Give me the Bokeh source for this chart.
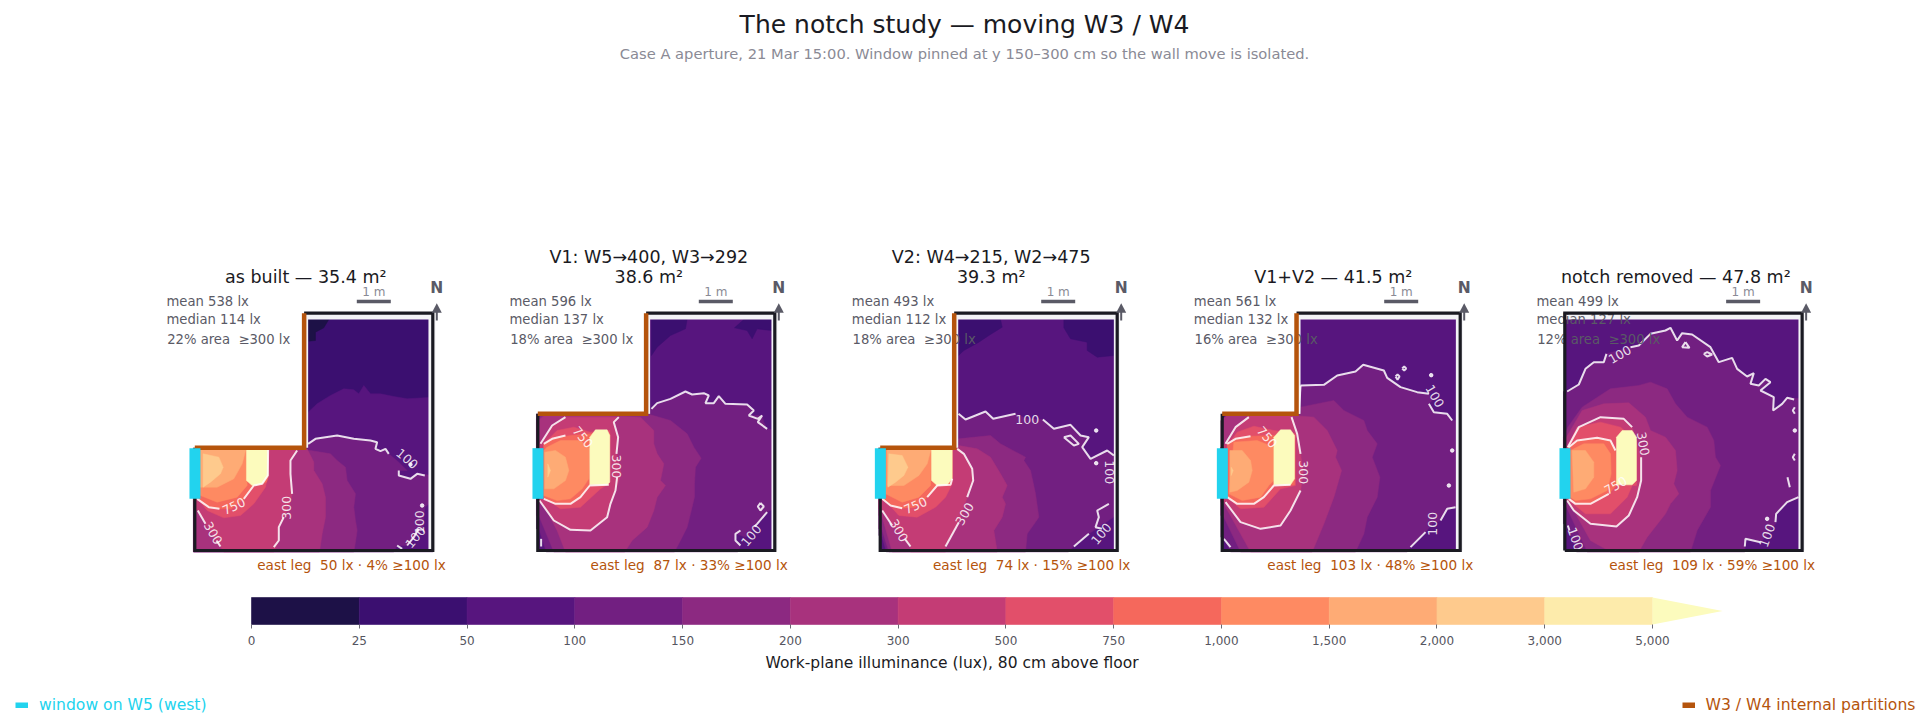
from bokeh.embed import file_html
from bokeh.resources import INLINE
from bokeh.plotting import figure
from bokeh.layouts import column, row
from bokeh.models import FixedTicker, Range1d
from bokeh.core.properties import value

LEVELS = [0, 25, 50, 100, 150, 200, 300, 500, 750, 1000, 1500, 2000, 3000, 5000]
LEVEL_LABELS = ["0", "25", "50", "100", "150", "200", "300", "500", "750", "1,000", "1,500", "2,000", "3,000", "5,000"]
COLORS = ["#1d1147", "#3b0f70", "#57157e", "#721f81", "#8c2981", "#a8327d", "#c43c75",
          "#e24f6a", "#f5685c", "#fe8a62", "#feab75", "#feca8d", "#fdebab"]
OVER_COLOR = "#fcfbbd"

MAIN_TITLE = "The notch study — moving W3 / W4"
SUBTITLE = "Case A aperture, 21 Mar 15:00. Window pinned at y 150–300 cm so the wall move is isolated."
CBAR_LABEL = "Work-plane illuminance (lux), 80 cm above floor"
LEGEND_WINDOW = "window on W5 (west)"
LEGEND_WALLS = "W3 / W4 internal partitions"

P1_BANDS = [
    (0, [(340,693),(402,693),(387,668),(362,655),(362,630),(342,628)]),
    (50, [(340,415),(367,440),(407,465),(447,485),(477,482),(492,470),(507,495),(527,470),(557,470),(597,462),(637,455),(715,460),(715,-4),(-4,-4),(-4,415)]),
    (100, [(340,320),(362,335),(427,345),(477,335),(527,330),(547,325),(542,305),(557,298),(572,305),(582,290),(612,265),(637,240),(612,240),(612,225),(647,215),(667,230),(715,225),(715,150),(690,130),(685,70),(667,45),(637,15),(607,15),(597,-4),(-4,-4),(-4,320)]),
    (150, [(347,300),(407,290),(427,270),(452,250),(457,210),(482,170),(477,130),(482,90),(487,60),(482,25),(477,-4),(-4,-4),(-4,305)]),
    (200, [(337,305),(357,265),(357,240),(382,200),(392,160),(392,100),(382,50),(374,-4),(-4,-4),(-4,305)]),
    (300, [(87,-4),(237,-4),(252,30),(252,70),(267,100),(282,130),(292,170),(287,230),(287,270),(307,300),(310,310),(-4,310),(-4,125),(9,120),(32,80),(62,35),(77,12)]),
    (500, [(220,310),(220,230),(212,190),(177,140),(137,105),(87,98),(37,120),(5,160),(-4,165),(-4,310)]),
    (750, [(-4,310),(-4,150),(7,155),(42,130),(74,125),(110,125),(147,155),(177,195),(215,205),(220,220),(220,310)]),
    (1000, [(17,165),(67,145),(127,160),(157,195),(155,310),(-4,310),(-4,165)]),
    (1500, [(-4,190),(17,190),(67,190),(117,215),(142,260),(155,310),(-4,310)]),
    (2000, [(25,290),(72,280),(85,250),(77,230),(47,205),(25,190)]),
    (5000, [(155,305),(219,305),(219,225),(202,200),(172,195),(155,210)]),
]
P1_LINES = [
    [(340,320),(362,335),(427,345),(477,335),(527,330),(547,325),(542,305),(557,298),(572,305),(582,290)],
    [(612,240),(612,225),(647,215),(667,230),(690,225)],
    [(672,65),(657,40),(637,15)], [(607,15),(622,5)],
    [(307,300),(287,270),(287,230),(292,170)], [(267,100),(252,70),(252,30),(237,10)],
    [(9,120),(32,80)], [(65,30),(77,12)],
    [(7,155),(42,130),(74,125)], [(147,155),(177,195),(202,200),(219,225),(220,305)],
    [(220,305),(307,305)],
]
P1_DOTS = [(647,258),(682,135)]
P1_LABELS = [(275,128,"300",90),(55,52,"300",-60),(117,133,"750",25),(637,275,"100",-40),(675,85,"100",90),(662,40,"100",50)]

P2_BANDS = [
    (25, [(341,693),(448,693),(443,665),(398,645),(358,610),(341,585)]),
    (25, [(618,693),(701,693),(701,660),(658,665),(643,635),(628,660),(590,668)]),
    (100, [(341,425),(358,442),(398,455),(443,477),(463,468),(498,472),(513,465),(503,442),(528,442),(543,463),(563,440),(628,438),(648,420),(633,405),(673,405),(678,385),(688,365),(715,360),(715,130),(688,115),(658,80),(625,40),(595,50),(593,30),(608,15),(600,-4),(25,-4),(5,60),(-4,65),(-4,425)]),
    (150, [(328,410),(398,390),(448,350),(468,310),(490,277),(473,250),(470,200),(470,160),(458,110),(448,70),(428,30),(410,-4),(48,-4),(5,100),(-4,105),(-4,395),(20,410)]),
    (200, [(253,402),(308,400),(348,360),(348,320),(358,290),(378,260),(368,210),(383,195),(358,160),(348,120),(328,70),(283,30),(261,-4),(83,-4),(58,60),(5,160),(-4,165),(-4,385),(25,410)]),
    (300, [(243,400),(228,385),(241,340),(236,290),(250,230),(233,180),(218,140),(208,100),(158,60),(98,62),(48,90),(5,150),(-4,155),(-4,310),(8,320),(43,375),(83,400)]),
    (500, [(18,160),(68,125),(128,130),(188,185),(213,200),(216,360),(158,355),(108,370),(58,360),(18,320)]),
    (750, [(18,155),(53,140),(98,140),(128,160),(156,195),(213,197),(216,350),(160,350),(98,345),(43,335),(18,320)]),
    (1000, [(18,165),(58,150),(98,155),(133,185),(153,215),(156,305),(128,330),(68,330),(28,310),(18,300)]),
    (1500, [(21,295),(53,300),(83,280),(93,240),(83,210),(48,185),(21,185)]),
    (2000, [(30,260),(38,240),(30,220)]),
    (5000, [(156,340),(173,362),(208,362),(216,345),(216,205),(208,197),(156,197)]),
]
P2_LINES = [
    [(341,425),(358,442),(398,455),(443,477),(463,468),(498,472),(513,465),(503,442),(528,442),(543,463),(563,440),(628,438),(648,420),(633,405),(660,395),(673,405),(660,385),(688,365)],
    [(688,115),(658,80),(650,72)], [(608,15),(593,30),(593,50),(608,60)],
    [(668,143),(678,132),(668,120),(660,132),(668,143)], [(10,35),(10,12)],
    [(243,400),(228,385),(241,340),(236,290)], [(238,220),(233,180),(218,140),(208,100),(158,60),(98,62),(48,90),(5,150)],
    [(8,320),(43,375),(83,400)],
    [(18,320),(43,335),(83,345)], [(18,155),(53,140),(98,140),(128,160),(156,195),(213,197)],
]
P2_DOTS = []
P2_LABELS = [(236,252,"300",-90),(135,340,"750",-50),(640,45,"100",50)]

P3_BANDS = [
    (25, [(235,693),(361,693),(366,670),(326,645),(296,625),(251,600),(235,585)]),
    (25, [(551,693),(701,693),(701,585),(651,580),(621,600),(621,625),(571,635),(551,668)]),
    (100, [(235,410),(256,393),(316,417),(339,395),(406,410),(441,395),(488,393),(521,365),(571,377),(601,345),(626,340),(606,310),(631,275),(681,300),(715,285),(715,110),(626,50),(581,12),(565,-4),(18,-4),(6,40),(-4,45),(-4,310),(235,310)]),
    (150, [(235,335),(331,345),(361,320),(436,280),(431,270),(451,240),(466,170),(476,100),(441,50),(436,-4),(26,-4),(6,60),(-4,65),(-4,310),(235,310)]),
    (200, [(235,315),(291,305),(331,280),(361,230),(381,195),(366,160),(376,140),(366,100),(341,60),(351,-4),(36,-4),(6,100),(-4,105),(-4,310),(235,310)]),
    (300, [(91,-4),(196,-4),(196,12),(236,85),(261,160),(279,210),(276,245),(251,290),(231,310),(-4,310),(-4,125),(6,120),(36,75),(56,60),(91,12)]),
    (500, [(6,160),(56,105),(111,100),(166,130),(196,160),(216,200),(216,310),(-4,310),(-4,160)]),
    (750, [(6,155),(31,135),(66,127),(106,130),(141,160),(171,195),(211,197),(216,215),(216,310),(-4,310),(-4,155)]),
    (1000, [(16,170),(66,145),(116,160),(151,195),(154,310),(-4,310),(-4,170)]),
    (1500, [(21,195),(71,195),(116,225),(141,260),(154,310),(21,310)]),
    (2000, [(26,290),(66,285),(83,250),(71,225),(46,205),(23,190)]),
    (5000, [(154,302),(216,302),(216,215),(201,197),(171,195),(154,210)]),
]
P3_LINES = [
    [(235,410),(256,393),(316,417),(339,395),(406,410)],
    [(488,393),(521,365),(571,377),(601,345),(626,340),(606,310),(631,275),(681,300),(701,285)],
    [(551,340),(571,345),(596,320),(581,315),(551,340)],
    [(626,50),(581,12)], [(686,140),(651,120),(656,100),(646,70),(665,65)],
    [(196,12),(236,85)], [(261,160),(279,210),(276,245),(251,290),(231,305)],
    [(6,120),(36,75)], [(74,35),(91,12)],
    [(6,155),(31,135),(66,127)], [(141,160),(171,195),(211,197),(216,215)],
]
P3_DOTS = [(648,360),(648,262)]
P3_LABELS = [(441,392,"100",0),(253,110,"300",60),(56,60,"300",-60),(106,135,"750",25),(689,235,"100",-90),(663,50,"100",50)]

P4_BANDS = [
    (100, [(235,495),(305,497),(345,525),(400,537),(423,557),(485,540),(495,518),(535,490),(585,475),(620,470),(630,450),(620,440),(635,415),(675,410),(690,390),(715,390),(715,130),(675,125),(655,90),(630,80),(610,55),(565,10),(555,-4),(25,-4),(5,35),(-4,40),(-4,310),(235,310)]),
    (150, [(235,430),(335,450),(365,420),(425,390),(435,360),(465,320),(450,280),(473,220),(465,160),(435,100),(425,50),(400,-4),(55,-4),(5,100),(-4,105),(-4,310),(235,410)]),
    (200, [(210,405),(275,400),(315,360),(345,300),(340,280),(358,240),(335,160),(305,80),(270,-4),(85,-4),(5,140),(-4,145),(-4,390),(20,410)]),
    (300, [(208,410),(225,350),(235,290),(243,235),(235,180),(205,120),(175,75),(115,65),(55,85),(10,145),(-4,150),(-4,310),(10,320),(40,370),(80,405)]),
    (500, [(20,155),(55,125),(125,130),(175,185),(220,195),(220,350),(155,360),(95,373),(45,355),(20,320)]),
    (750, [(15,160),(45,140),(95,140),(125,160),(155,195),(217,197),(217,340),(155,345),(85,343),(40,335),(15,320)]),
    (1000, [(20,170),(60,150),(115,160),(140,195),(155,210),(155,310),(105,330),(35,325)]),
    (1500, [(23,300),(60,300),(85,270),(90,240),(80,205),(45,180),(23,175)]),
    (2000, [(27,250),(33,240),(27,225)]),
    (5000, [(155,340),(175,362),(205,362),(217,345),(217,215),(205,197),(155,197)]),
]
P4_LINES = [
    [(235,495),(305,497),(345,525),(400,537),(423,557),(485,540),(495,518),(535,490),(585,475),(620,470)],
    [(620,440),(635,415),(675,410),(690,390)],
    [(700,130),(675,125),(655,90)], [(610,55),(565,10)], [(5,35),(25,10)],
    [(540,546),(546,552),(552,546),(546,540),(540,546)], [(520,522),(526,528),(532,522),(526,512),(520,522)],
    [(208,400),(225,350),(235,290)], [(235,180),(205,120),(175,75),(115,65),(55,85),(10,145)],
    [(10,320),(40,370),(80,400)], [(230,410),(235,495)],
    [(15,320),(40,335),(85,343)], [(15,160),(45,140),(95,140),(125,160),(155,195),(205,197)],
]
P4_DOTS = [(627,526),(690,300),(680,195)]
P4_LABELS = [(638,463,"100",-60),(630,80,"100",90),(243,235,"300",-90),(135,340,"750",-50)]

P5_BANDS = [
    (100, [(7,477),(42,498),(62,545),(87,565),(117,565),(125,590),(197,610),(222,615),(257,650),(302,660),(317,668),(337,630),(352,652),(382,648),(437,610),(462,565),(502,578),(517,545),(547,522),(567,532),(557,500),(582,495),(602,515),(617,505),(587,480),(627,460),(625,420),(652,440),(667,458),(715,455),(715,160),(667,145),(634,110),(632,80),(607,45),(587,25),(542,35),(540,-4),(35,-4),(9,75),(-4,80),(-4,477)]),
    (150, [(-4,340),(9,370),(52,430),(137,485),(222,495),(257,505),(307,485),(332,440),(367,400),(427,370),(447,330),(452,280),(467,255),(437,180),(437,130),(397,60),(377,-4),(67,-4),(52,30),(5,130),(-4,135)]),
    (200, [(-4,335),(5,340),(52,420),(117,440),(192,443),(242,400),(257,360),(302,340),(332,300),(337,240),(327,200),(342,170),(317,140),(302,110),(247,40),(222,-4),(137,-4),(77,30),(5,160),(-4,165)]),
    (300, [(-4,305),(9,310),(42,370),(107,400),(177,395),(202,370),(229,280),(229,210),(217,160),(192,105),(155,72),(77,80),(27,120),(7,150),(-4,155)]),
    (500, [(7,155),(62,110),(137,110),(187,160),(202,195),(215,195),(215,330),(167,370),(107,385),(37,370),(7,310)]),
    (750, [(12,155),(32,140),(77,140),(132,170),(155,195),(155,235),(152,300),(137,330),(97,338),(37,330),(12,310)]),
    (1000, [(17,300),(57,320),(117,320),(137,290),(139,230),(127,180),(77,155),(32,150),(17,160)]),
    (1500, [(22,300),(62,300),(87,265),(87,220),(62,185),(27,175)]),
    (5000, [(155,340),(172,360),(202,360),(215,340),(215,210),(202,197),(155,197)]),
]
P5_LINES = [
    [(7,477),(42,498),(62,545),(87,565),(117,565),(125,590)],
    [(197,610),(222,615),(257,650),(302,660),(317,668),(337,630),(352,652),(382,648),(437,610),(462,565),(502,578),(517,545),(547,522),(567,532),(557,500),(582,495),(602,515),(617,505),(587,480),(627,460),(625,420),(652,440),(667,458),(688,453)],
    [(362,625),(352,610),(374,608),(362,625)], [(417,590),(427,595),(442,588),(427,582),(417,590)],
    [(701,160),(667,145),(634,110),(632,85)], [(587,25),(542,35),(540,12)],
    [(9,75),(14,60)], [(668,220),(675,190)], [(690,290),(684,280),(690,270)], [(690,430),(684,420),(690,410)],
    [(9,310),(42,370),(107,400),(177,395),(202,370)], [(229,280),(229,210),(217,160),(192,105),(155,72),(77,80),(27,120),(7,150)],
    [(12,310),(37,330),(97,338),(137,330),(152,300)], [(12,155),(32,140),(77,140),(132,170)],
]
P5_DOTS = [(690,360),(607,95)]
P5_LABELS = [(165,588,"100",30),(235,320,"300",-80),(32,35,"100",-70),(607,45,"100",70),(152,195,"750",30)]

PANEL_TITLES = [["as built — 35.4 m²"], ["V1: W5→400, W3→292", "38.6 m²"], ["V2: W4→215, W2→475", "39.3 m²"], ["V1+V2 — 41.5 m²"], ["notch removed — 47.8 m²"]]
MEAN = [538, 596, 493, 561, 499]
MEDIAN = [114, 137, 112, 132, 127]
AREA_PCT = [22, 18, 18, 16, 12]
EAST_LUX = [50, 87, 74, 103, 109]
EAST_PCT = [4, 33, 15, 48, 59]
BASE_LEVEL = [25, 50, 50, 50, 50]
W3_Y = [308, 410, 308, 410, None]
W4_X = [328, 325, 222, 223, None]
ROOM_W = [714, 711, 711, 714, 712]
ROOM_H = 712
BANDS = [P1_BANDS, P2_BANDS, P3_BANDS, P4_BANDS, P5_BANDS]
LINES = [P1_LINES, P2_LINES, P3_LINES, P4_LINES, P5_LINES]
DOTS = [P1_DOTS, P2_DOTS, P3_DOTS, P4_DOTS, P5_DOTS]
CONTOUR_LABELS = [P1_LABELS, P2_LABELS, P3_LABELS, P4_LABELS, P5_LABELS]
UNITS_PER_M = 102

# layout (picture pixels)
PAGE_L, PAGE_R = 0, 1920
PANEL_EDGES = [0, 480, 820, 1160, 1500, 1920]
ROOM_WEST_PX = [194.3, 537.3, 879.7, 1221.7, 1564.3]
HEADER_H, PANEL_H, CBAR_H, LEG_H = 238, 342, 105, 32
PANEL_TOP = HEADER_H
FLOOR_PX = 550
U = 3.0  # plan units per pixel

FONT = value("DejaVu Sans")
INK = "#1a1a22"; GREY = "#5a5a66"; LIGHT = "#8a8a95"; ORANGE = "#b5540c"; CYAN = "#22d3ee"; STRIP = "#f3f3f6"
LEVEL_COLOR = dict(zip(LEVELS, COLORS)); LEVEL_COLOR[5000] = OVER_COLOR
NB = "\u00a0"


def bare(width, height, xr, yr):
    p = figure(width=width, height=height, x_range=Range1d(*xr), y_range=Range1d(*yr), output_backend="svg",
               toolbar_location=None, min_border=0, outline_line_color=None, background_fill_color="white",
               border_fill_color="white")
    p.axis.visible = False
    p.grid.visible = False
    return p


def txt(p, x, y, s, size, color, align="left", angle=0, style="normal", alpha=1.0):
    p.text([x], [y], text=[s], text_font=FONT, text_font_size=f"{size}px", text_color=color, text_align=align,
           text_baseline="middle", angle=[angle], angle_units="deg", text_font_style=style, text_alpha=alpha)


def panel(i):
    left, right = PANEL_EDGES[i], PANEL_EDGES[i + 1]
    width = right - left
    x0 = (left - ROOM_WEST_PX[i]) * U
    yb = -(PANEL_TOP + PANEL_H - FLOOR_PX) * U
    p = bare(width, PANEL_H, (x0, x0 + width * U), (yb, yb + PANEL_H * U))
    w, h = ROOM_W[i], ROOM_H
    w3, w4 = W3_Y[i], W4_X[i]
    # field
    p.quad(left=[0], right=[w], bottom=[0], top=[h], color=LEVEL_COLOR[BASE_LEVEL[i]], line_width=0)
    for lvl, poly in BANDS[i]:
        xs, ys = zip(*poly)
        p.patch(list(xs), list(ys), fill_color=LEVEL_COLOR[lvl], line_color=LEVEL_COLOR[lvl], line_width=0.5)
    # strips between field and walls
    p.quad(left=[0], right=[w], bottom=[693], top=[h], color=STRIP, line_width=0)
    p.quad(left=[701], right=[w + 8], bottom=[0], top=[h], color=STRIP, line_width=0)
    if w3 is not None:
        p.quad(left=[w4], right=[w4 + 12], bottom=[w3], top=[h], color=STRIP, line_width=0)
        p.quad(left=[-30], right=[w4], bottom=[w3], top=[h + 20], color="white", line_width=0)
    # contours
    p.multi_line([[q[0] for q in l] for l in LINES[i]], [[q[1] for q in l] for l in LINES[i]],
                 line_color="white", line_width=2, line_alpha=0.85)
    if DOTS[i]:
        p.scatter([q[0] for q in DOTS[i]], [q[1] for q in DOTS[i]], size=3.5, color="white", alpha=0.85)
    for x, y, s, a in CONTOUR_LABELS[i]:
        txt(p, x, y, s, 12.5, "white", "center", a, alpha=0.85)
    # stats
    txt(p, -85, 748, f"mean {MEAN[i]} lx", 13.2, GREY)
    txt(p, -85, 693, f"median {MEDIAN[i]} lx", 13.2, GREY)
    txt(p, -83, 634, f"{AREA_PCT[i]}% area{NB}{NB}≥300 lx", 13.2, GREY)
    # walls
    if w3 is None:
        p.line([0, 0, w, w, 0], [0, h, h, 0, 0], line_color=INK, line_width=3.2, line_join="miter")
    else:
        p.line([0, 0, w, w, w4], [w3, 0, 0, h, h], line_color=INK, line_width=3.2, line_join="miter")
        p.line([0, w4, w4], [w3, w3, h], line_color=ORANGE, line_width=4.5, line_join="miter")
    # window
    p.quad(left=[-16], right=[17], bottom=[155], top=[307], color=CYAN, line_width=0)
    # scale bar and north
    p.quad(left=[w - 228], right=[w - 228 + UNITS_PER_M], bottom=[742], top=[752], color=GREY, line_width=0)
    txt(p, w - 228 + UNITS_PER_M / 2, 775, "1 m", 12, LIGHT, "center")
    p.line([w + 12, w + 12], [690, 725], line_color=GREY, line_width=2)
    p.patch([w - 3, w + 27, w + 12], [713, 713, 742], color=GREY, line_width=0)
    txt(p, w + 12, 788, "N", 15.5, GREY, "center", style="bold")
    # title and east-leg note
    lines = PANEL_TITLES[i]
    ys = [820] if len(lines) == 1 else [880, 820]
    for s, y in zip(lines, ys):
        txt(p, 333, y, s, 17.5, INK, "center")
    txt(p, w + 39, -43, f"east leg{NB}{NB}{EAST_LUX[i]} lx · {EAST_PCT[i]}% ≥100 lx", 13.6, ORANGE, "right")
    return p


# header
head = bare(PAGE_R - PAGE_L, HEADER_H, (PAGE_L, PAGE_R), (PANEL_TOP, 0))
txt(head, 964, 24, MAIN_TITLE, 25, INK, "center")
txt(head, 964, 53, SUBTITLE, 14.7, LIGHT, "center")

# colour bar
BIN_PX = 1401 / 13
CB_TOP, CB_BOT = 597, 624
cb_top_page, cb_bot_page = PANEL_TOP + PANEL_H, PANEL_TOP + PANEL_H + CBAR_H
xr = ((PAGE_L - 251) / BIN_PX, (PAGE_R - 251) / BIN_PX)
ph = CB_BOT - CB_TOP
yr = (-(cb_bot_page - CB_BOT) / ph, 1 + (CB_TOP - cb_top_page) / ph)
cbar = bare(PAGE_R - PAGE_L, CBAR_H, xr, yr)
idx = list(range(len(LEVELS)))
cbar.quad(left=idx[:-1], right=idx[1:], bottom=0, top=1, fill_color=COLORS, line_color=COLORS, line_width=0.6)
cbar.patch([13, 13, 13.65], [0, 1, 0.5], color=OVER_COLOR, line_width=0)
ax = cbar.xaxis[0]
ax.visible = True
ax.fixed_location = 0
ax.ticker = FixedTicker(ticks=idx)
ax.major_label_overrides = {i: s for i, s in zip(idx, LEVEL_LABELS)}
ax.axis_line_color = None
ax.major_tick_in = 0
ax.major_tick_out = 4
ax.minor_tick_line_color = None
ax.major_tick_line_color = "#6a6a75"
ax.major_tick_line_width = 1
ax.major_label_text_font = "DejaVu Sans"
ax.major_label_text_font_size = "12px"
ax.major_label_text_color = "#555560"
ax.major_label_standoff = 7
txt(cbar, 6.5, -(662 - CB_BOT) / ph, CBAR_LABEL, 15.5, INK, "center")

# legend
leg_top = HEADER_H + PANEL_H + CBAR_H
leg = bare(PAGE_R - PAGE_L, LEG_H, (PAGE_L, PAGE_R), (leg_top + LEG_H, leg_top))
leg.quad(left=[15], right=[27.5], bottom=[707.5], top=[702], color=CYAN, line_width=0)
txt(leg, 38.5, 704, LEGEND_WINDOW, 15.6, CYAN)
leg.quad(left=[1682], right=[1694.5], bottom=[707.5], top=[702], color=ORANGE, line_width=0)
txt(leg, 1705, 704, LEGEND_WALLS, 15.6, ORANGE)

page = column(head, row(*[panel(i) for i in range(5)]), cbar, leg)
open("out.html", "w").write(file_html(page, INLINE))
